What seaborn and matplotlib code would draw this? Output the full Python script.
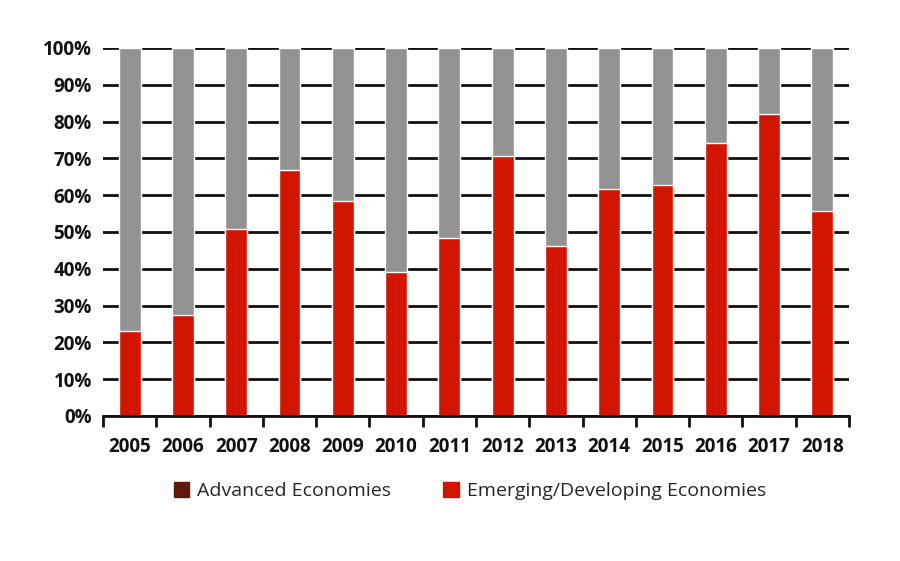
import numpy as np
import pandas as pd
import seaborn as sns
import matplotlib.pyplot as plt
from matplotlib.patches import Patch
from matplotlib.ticker import FixedLocator

years = ['2005', '2006', '2007', '2008', '2009', '2010', '2011',
         '2012', '2013', '2014', '2015', '2016', '2017', '2018']
emerging = [23.1, 27.4, 50.9, 66.8, 58.3, 39.2, 48.3,
            70.7, 46.2, 61.6, 62.7, 74.1, 82.0, 55.8]
advanced = [100 - v for v in emerging]

df = pd.DataFrame({'year': years, 'emerging': emerging, 'advanced': advanced})
df['total'] = df['emerging'] + df['advanced']

sns.set_style('white')
plt.rcParams['font.family'] = ['Open Sans', 'DejaVu Sans']

fig = plt.figure(figsize=(9, 5.61), dpi=100)
ax = fig.add_axes([0.1144, 0.2585, 0.8289, 0.656])

red = '#d21500'
grey = '#929292'
brown = '#5c1a0a'

sns.barplot(data=df, x='year', y='total', color=grey, width=0.41,
            saturation=1, ax=ax, zorder=3)
sns.barplot(data=df, x='year', y='emerging', color=red, width=0.41,
            saturation=1, ax=ax, zorder=4)

ax.set_xlim(-0.5, len(years) - 0.5)
ax.set_ylim(0, 100)
ax.set_yticks(np.arange(0, 101, 10))
ax.set_yticklabels([f'{v}%' for v in range(0, 101, 10)],
                   fontsize=13.5, fontweight='bold', color='#111111')
ax.yaxis.grid(True, color='#111111', linewidth=2)
ax.set_axisbelow(True)
ax.tick_params(axis='y', length=0, pad=8)

ax.tick_params(axis='x', which='major', bottom=False, length=0, pad=15)
ax.xaxis.set_minor_locator(FixedLocator(np.arange(-0.5, len(years), 1)))
ax.tick_params(axis='x', which='minor', bottom=True, length=8, width=2,
               color='#111111')
for lbl in ax.get_xticklabels():
    lbl.set_fontsize(13.5)
    lbl.set_fontweight('bold')
    lbl.set_color('#111111')

ax.set_xlabel('')
ax.set_ylabel('')
for side in ['left', 'right', 'top']:
    ax.spines[side].set_visible(False)
ax.spines['bottom'].set_color('#111111')
ax.spines['bottom'].set_linewidth(2)
ax.spines['bottom'].set_zorder(5)

handles = [Patch(color=brown, label='Advanced Economies'),
           Patch(color=red, label='Emerging/Developing Economies')]
fig.legend(handles=handles, loc='center', bbox_to_anchor=(0.522, 0.125),
           ncol=2, frameon=False, handlelength=0.8,
           handleheight=0.8, handletextpad=0.4, columnspacing=2.7,
           prop={'family': ['Open Sans', 'DejaVu Sans'], 'size': 14})

fig.savefig('out.png', dpi=100)
